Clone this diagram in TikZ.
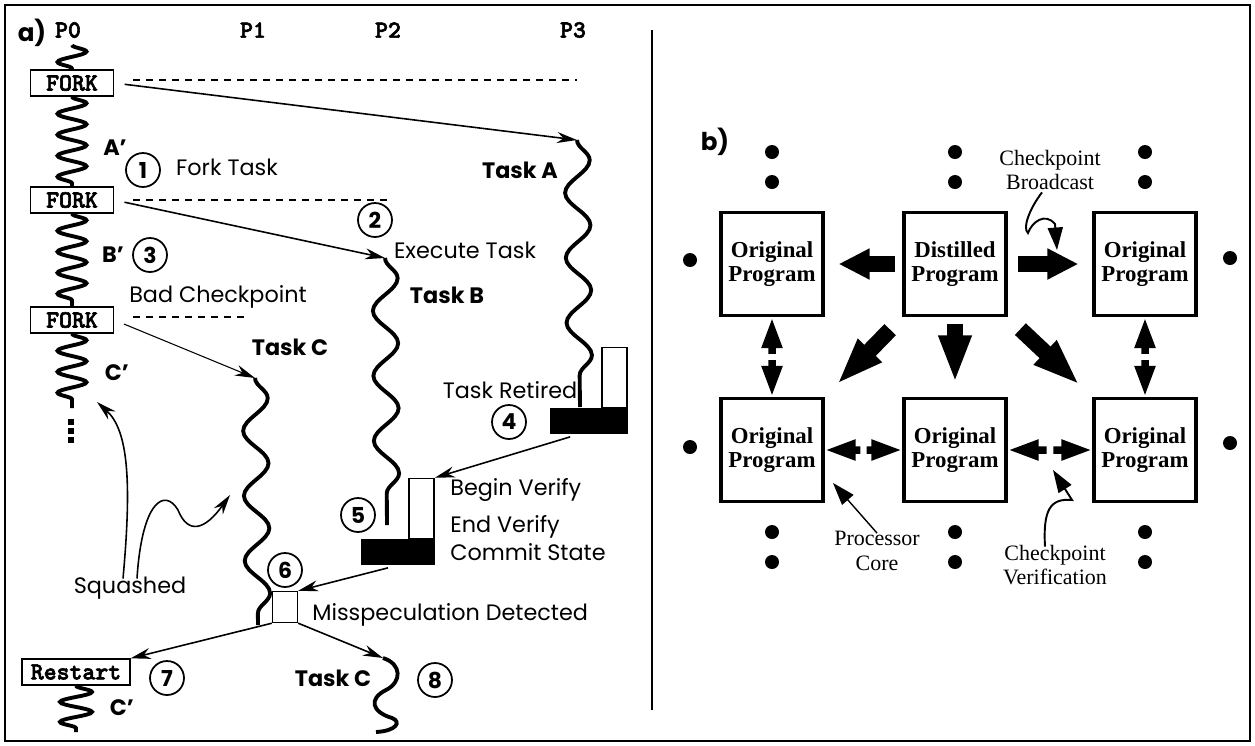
\documentclass[tikz,border=0pt]{standalone}
\usepackage{fontspec}
\setmainfont{Poppins}
\newfontfamily\codefont{lmmonolt10-bold.otf}[FakeBold=2.5]
\newfontfamily\romfont{Liberation Serif}
\usetikzlibrary{arrows.meta,decorations.pathmorphing,calc}

\begin{document}
\begin{tikzpicture}[x=0.02cm,y=0.02cm]
                \tikzstyle{every node}+=[inner sep=0pt]
                \tikzstyle{lbl}=[font=\fontsize{12.7}{14}\selectfont]
                \tikzstyle{tasklbl}=[font=\fontsize{12.7}{14}\selectfont\bfseries]
                \tikzstyle{proc}=[font=\codefont\fontsize{14}{15}\selectfont]
                \tikzstyle{forkbox}=[proc, draw, line width=0.8pt, minimum width=1.66cm, minimum height=0.52cm]
                \tikzstyle{num}=[circle, draw, line width=1pt, minimum size=0.68cm, font=\fontsize{12.5}{14}\selectfont\bfseries]
                \tikzstyle{spring}=[line width=2.2pt, decorate, decoration={snake, amplitude=0.29cm, segment length=0.42cm}]
                \tikzstyle{wave}=[line width=2.2pt, decorate, decoration={snake, amplitude=0.25cm, segment length=1.3cm}]
                \tikzstyle{dashln}=[line width=1.2pt, dash pattern=on 4pt off 3.4pt]
                \tikzstyle{fwd}=[line width=0.9pt, -{Stealth[length=0.4cm,width=0.22cm]}]
                \tikzstyle{thinfwd}=[line width=0.6pt, -{Stealth[length=0.4cm,width=0.22cm]}]
                \tikzstyle{rom}=[font=\romfont\fontsize{12.5}{14}\selectfont, align=center]
                \tikzstyle{pbox}=[draw, line width=1.8pt, minimum width=2.04cm, minimum height=2.06cm, align=center, font=\romfont\bfseries\fontsize{13}{13.7}\selectfont]
                \tikzstyle{fat}=[line width=0.32cm, -{Triangle[length=0.62cm,width=0.58cm]}]
                \tikzstyle{fatlong}=[line width=0.32cm, -{Triangle[length=0.95cm,width=0.6cm]}]
                \tikzstyle{dbl}=[line width=0.15cm, -{Triangle[length=0.62cm,width=0.38cm]}]
                \tikzstyle{note}=[line width=1.1pt, -{Triangle[length=0.45cm,width=0.3cm]}]
                \useasboundingbox (0,0) rectangle (1255,-745);
                \draw [black, line width=1.2pt] (5,-5) rectangle (1250,-741);
                \draw [black, line width=0.8pt] (652,-30) -- (652,-710);
                \node [lbl, font=\fontsize{14}{15}\selectfont\bfseries] (alab) at (32,-33) {a)};
                \node [proc] (p0) at (68,-30) {P0};
                \node [proc] (p1) at (253,-30) {P1};
                \node [proc] (p2) at (388,-30) {P2};
                \node [proc] (p3) at (573,-30) {P3};
                \node [forkbox] (fork1) at (72,-83) {FORK};
                \node [forkbox] (fork2) at (72,-200) {FORK};
                \node [forkbox] (fork3) at (72,-320) {FORK};
                \node [forkbox, minimum width=2.16cm] (restart) at (76,-672) {Restart};
                \coordinate (p0a) at (72,-45);
                \coordinate (p0b) at (72,-408);
                \coordinate (rs) at (76,-732);
                \draw [spring] (p0a) -- (fork1.north);
                \draw [spring] (fork1.south) -- (fork2.north);
                \draw [spring] (fork2.south) -- (fork3.north);
                \draw [spring] (fork3.south) -- (p0b);
                \draw [spring, decoration={snake, amplitude=0.32cm, segment length=0.4cm}] (restart.south) -- (rs);
                \foreach \y in {422,431,440}
                    \fill [black] (68,-\y-3) rectangle (74,-\y+3);
                \draw [dashln] (133,-80) -- (577,-80);
                \draw [dashln] (133,-200) -- (387,-200);
                \draw [dashln] (133,-317) -- (248,-317);
                \coordinate (ta0) at (577,-140);
                \coordinate (ta1) at (580,-407);
                \coordinate (tb0) at (385,-258);
                \coordinate (tb1) at (387,-525);
                \coordinate (tc0) at (255,-378);
                \coordinate (tc1) at (258,-625);
                \coordinate (td0) at (383,-658);
                \coordinate (td1) at (376,-732);
                \draw [wave] (ta0) -- (ta1);
                \draw [wave] (tb0) -- (tb1);
                \draw [wave] (tc0) -- (tc1);
                \draw [line width=2.2pt] (td0) .. controls (402,-664) and (402,-682) .. (386,-690) .. controls (368,-699) and (372,-712) .. (392,-718) .. controls (402,-722) and (396,-731) .. (td1);
                \draw [fwd, shorten <=6pt] (fork1.east) -- (ta0);
                \draw [fwd, shorten <=6pt] (fork2.east) -- (tb0);
                \draw [thinfwd, shorten <=6pt] (fork3.east) -- (tc0);
                \node [tasklbl] (ltaska) at (520,-170) {Task A};
                \node [tasklbl] (ltaskb) at (447,-295) {Task B};
                \node [tasklbl] (ltaskc) at (290,-347) {Task C};
                \node [tasklbl] (ltaskd) at (333,-678) {Task C};
                \node [tasklbl] (aprime) at (115,-148) {A'};
                \node [tasklbl] (bprime) at (113,-255) {B'};
                \node [tasklbl] (cprime) at (117,-373) {C'};
                \node [tasklbl] (cprime2) at (122,-708) {C'};
                \node [num] (n1) at (143,-170) {1};
                \node [num] (n2) at (375,-220) {2};
                \node [num] (n3) at (150,-255) {3};
                \node [num] (n4) at (509,-422) {4};
                \node [num] (n5) at (358,-515) {5};
                \node [num] (n6) at (285,-570) {6};
                \node [num] (n7) at (167,-678) {7};
                \node [num] (n8) at (435,-680) {8};
                \node [lbl] (lfork) at (227,-167) {Fork Task};
                \node [lbl] (lexec) at (465,-250) {Execute Task};
                \node [lbl] (lbad) at (218,-297) {Bad Checkpoint};
                \node [lbl] (lret) at (510,-390) {Task Retired};
                \node [lbl, anchor=west] (lbeg) at (450,-490) {Begin Verify};
                \node [lbl, anchor=west] (lend) at (450,-527) {End Verify};
                \node [lbl, anchor=west] (lcom) at (450,-552) {Commit State};
                \node [lbl, anchor=west] (lmis) at (312,-615) {Misspeculation Detected};
                \node [lbl] (lsq) at (130,-588) {Squashed};
                \node [draw, fill=black, minimum width=1.54cm, minimum height=0.5cm] (retbar) at (589,-421) {};
                \node [draw, line width=0.8pt, minimum width=0.5cm, minimum height=1.2cm, anchor=south east] (retcol) at (retbar.north east) {};
                \node [draw, fill=black, minimum width=1.46cm, minimum height=0.5cm] (verbar) at (398,-552) {};
                \node [draw, line width=0.8pt, minimum width=0.5cm, minimum height=1.2cm, anchor=south east] (vercol) at (verbar.north east) {};
                \node [draw, line width=0.8pt, minimum width=0.5cm, minimum height=0.62cm] (missq) at (285,-607) {};
                \draw [fwd] ($(retbar.south west)+(20,-3)$) -- (vercol.north east);
                \draw [fwd] ($(verbar.south)+(-10,-3)$) -- (missq.north east);
                \draw [fwd] (missq.south west) -- (restart.north east);
                \draw [fwd] (missq.south east) -- (td0);
                \draw [fwd] ($(lsq.north)+(-7,-2)$) .. controls (132,-480) and (128,-430) .. (97,-402);
                \draw [fwd] ($(lsq.north)+(7,-2)$) .. controls (142,-500) and (165,-488) .. (178,-510) .. controls (188,-535) and (205,-530) .. (230,-495);
                \node [lbl, font=\fontsize{14}{15}\selectfont\bfseries] (blab) at (715,-142) {b)};
                \node [pbox] (tl) at (772,-264) {Original\\Program};
                \node [pbox] (dist) at (955,-264) {Distilled\\Program};
                \node [pbox] (tr) at (1145,-264) {Original\\Program};
                \node [pbox] (bl) at (772,-450) {Original\\Program};
                \node [pbox] (bm) at (955,-450) {Original\\Program};
                \node [pbox] (br) at (1145,-450) {Original\\Program};
                \draw [fat, shorten <=4pt, shorten >=8pt] (dist.west) -- (tl.east);
                \draw [fat, shorten <=6pt, shorten >=8pt] (dist.east) -- (tr.west);
                \draw [fatlong, shorten <=4pt, shorten >=8pt] (dist.south) -- (bm.north);
                \draw [fatlong, shorten <=10pt, shorten >=10pt] (dist.south west) -- (bl.north east);
                \draw [fatlong, shorten <=10pt, shorten >=10pt] (dist.south east) -- (br.north west);
                \draw [dbl] ($(tl.south)!0.46!(bl.north)$) -- (tl.south);
                \draw [dbl] ($(tl.south)!0.54!(bl.north)$) -- (bl.north);
                \draw [dbl] ($(tr.south)!0.46!(br.north)$) -- (tr.south);
                \draw [dbl] ($(tr.south)!0.54!(br.north)$) -- (br.north);
                \draw [dbl] ($(bl.east)!0.46!(bm.west)$) -- (bl.east);
                \draw [dbl] ($(bl.east)!0.54!(bm.west)$) -- (bm.west);
                \draw [dbl] ($(bm.east)!0.46!(br.west)$) -- (bm.east);
                \draw [dbl] ($(bm.east)!0.54!(br.west)$) -- (br.west);
                \foreach \x in {772,955,1145} {
                    \fill [black] (\x,-152) circle (7);
                    \fill [black] (\x,-182) circle (7);
                    \fill [black] (\x,-532) circle (7);
                    \fill [black] (\x,-562) circle (7);
                }
                \fill [black] (690,-260) circle (7);
                \fill [black] (690,-447) circle (7);
                \fill [black] (1230,-258) circle (7);
                \fill [black] (1230,-443) circle (7);
                \node [rom] (bcast) at (1050,-170) {Checkpoint\\Broadcast};
                \node [rom] (pcore) at (877,-551) {Processor\\Core};
                \node [rom] (cver) at (1055,-565) {Checkpoint\\Verification};
                \draw [note] ($(bcast.south)+(-8,-2)$) .. controls (1030,-208) and (1022,-228) .. (1028,-233) .. controls (1032,-222) and (1045,-212) .. (1055,-224) -- (1057,-250);
                \draw [note, line width=0.8pt] ($(pcore.north)+(0,-2)$) -- (833,-483);
                \draw [note] ($(cver.north)+(-10,-2)$) .. controls (1043,-510) and (1050,-498) .. (1072,-500) -- (1053,-470);
            \end{tikzpicture}
\end{document}
